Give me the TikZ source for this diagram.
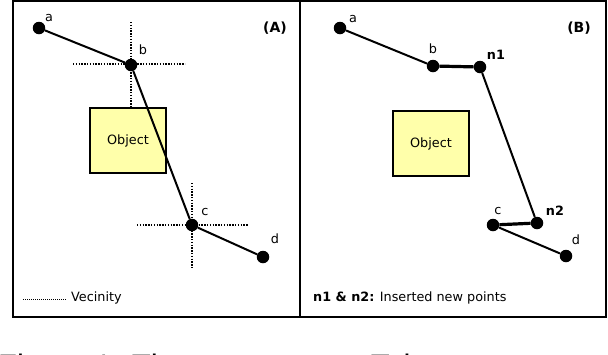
\documentclass[tikz,border=0pt]{standalone}
\usepackage{fontspec}
\setmainfont{DejaVu Sans}
\newfontfamily\capfont{Liberation Sans}
\definecolor{objyellow}{RGB}{255,255,170}
\begin{document}
\begin{tikzpicture}[x=1pt,y=-1pt,
  dot/.style={circle,fill=black,minimum size=12.5pt,inner sep=0pt},
  lbl/.style={font=\fontsize{12.8}{14}\selectfont,inner sep=0pt},
  blbl/.style={font=\fontsize{12.8}{14}\selectfont\bfseries,inner sep=0pt},
  tlbl/.style={font=\fontsize{14}{16}\selectfont\bfseries,inner sep=0pt},
  seg/.style={line width=2pt},
  thickseg/.style={line width=3.2pt},
  vic/.style={line width=1.3pt,dash pattern=on 1.4pt off 1.4pt},
  obj/.style={draw,line width=1.8pt,fill=objyellow,minimum width=76pt,minimum height=65pt,
    inner sep=0pt,font=\fontsize{12.8}{14}\selectfont},
  frame/.style={line width=2.2pt}]
\useasboundingbox (0,0) rectangle (608,354);
\clip (0,0) rectangle (608,354);

% frames
\draw[frame] (13,1) rectangle (606,317);
\draw[frame] (300,1) -- (300,317);

% ---------------- Panel A ----------------
\coordinate (bvt) at (131,22);
\coordinate (bvb) at (131,108);
\coordinate (bhl) at (73,64);
\coordinate (bhr) at (185,64);
\coordinate (cvt) at (192,183);
\coordinate (cvb) at (192,268);
\coordinate (chl) at (137,225);
\coordinate (chr) at (248,225);
\draw[vic] (bvt) -- (bvb);
\draw[vic] (bhl) -- (bhr);
\draw[vic] (cvt) -- (cvb);
\draw[vic] (chl) -- (chr);

\node[obj] (objA) at (128,140.5) {Object};

\node[dot] (Aa) at (39,28) {};
\node[dot] (Ab) at (131,65) {};
\node[dot] (Ac) at (192,225) {};
\node[dot] (Ad) at (263,257) {};
\draw[seg] (Aa) -- (Ab);
\draw[seg] (Ab) -- (Ac);
\draw[seg] (Ac) -- (Ad);

\node[lbl] (Ala) at (49,18) {a};
\node[lbl] (Alb) at (143,49.5) {b};
\node[lbl] (Alc) at (205,212) {c};
\node[lbl] (Ald) at (275,239) {d};
\node[tlbl] (Atitle) at (275,28) {(A)};

\coordinate (lgs) at (23,299);
\coordinate (lge) at (67,299);
\draw[line width=1pt,dash pattern=on 1pt off 1pt] (lgs) -- (lge);
\node[lbl,anchor=west] (Alg) at (71,297.5) {Vecinity};

% ---------------- Panel B ----------------
\node[obj] (objB) at (431,143.5) {Object};

\node[dot] (Ba) at (340,28) {};
\node[dot] (Bb) at (433,66) {};
\node[dot] (Bn1) at (480,67) {};
\node[dot] (Bn2) at (537,223) {};
\node[dot] (Bc) at (493,225) {};
\node[dot] (Bd) at (566,256) {};
\draw[seg] (Ba) -- (Bb);
\draw[thickseg] (Bb) -- (Bn1);
\draw[seg] (Bn1) -- (Bn2);
\draw[thickseg] (Bn2) -- (Bc);
\draw[seg] (Bc) -- (Bd);

\node[lbl] (Bla) at (353,19) {a};
\node[lbl] (Blb) at (433,49) {b};
\node[blbl] (Bln1) at (496,55) {n1};
\node[lbl] (Blc) at (498,211) {c};
\node[blbl] (Bln2) at (555,211) {n2};
\node[lbl] (Bld) at (576,240) {d};
\node[tlbl] (Btitle) at (579,28) {(B)};

\node[lbl,anchor=west] (Blg) at (313,297.5) {\textbf{n1 \& n2:} Inserted new points};

% ---------------- caption (cut off at the lower edge, as in the reference) ----------------
\node[anchor=base west,inner sep=0pt,font=\capfont\fontsize{31}{31}\selectfont] (cap) at (-2,376)
  {Figure 1: The error vector. Tolerance};
\end{tikzpicture}
\end{document}
